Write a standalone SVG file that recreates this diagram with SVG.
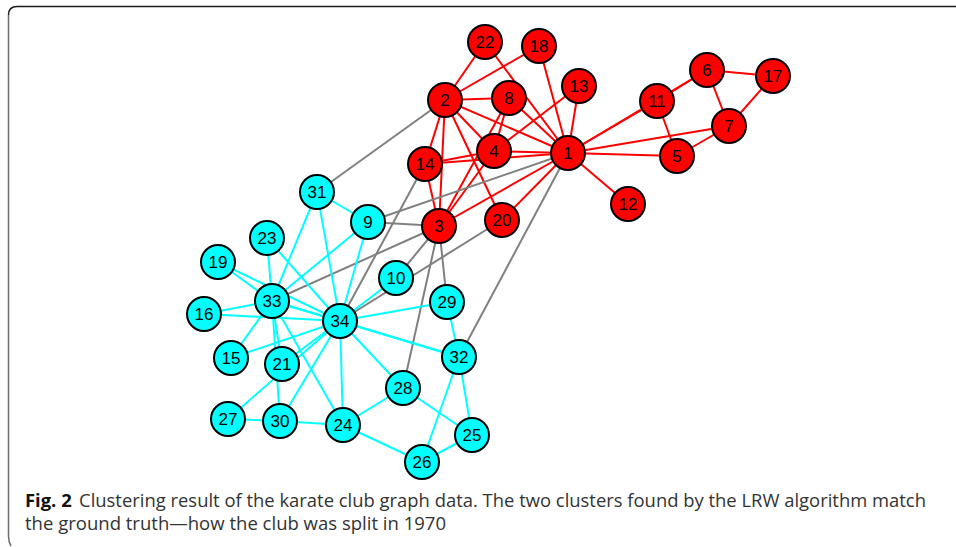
<svg xmlns="http://www.w3.org/2000/svg" width="956" height="547" viewBox="0 0 956 547">
<style>
.r{stroke:#ff0000;stroke-width:2}
.c{stroke:#00ffff;stroke-width:2}
.g{stroke:#808080;stroke-width:2}
.nr circle{fill:#ff0000;stroke:#000;stroke-width:2}
.nc circle{fill:#00ffff;stroke:#000;stroke-width:2}
.n text{font-family:"Liberation Sans",Arial,sans-serif;font-size:17px;fill:#000;text-anchor:middle;dominant-baseline:central}
.cap{font-family:"Open Sans","Liberation Sans",sans-serif;font-size:17.5px;fill:#333}
.cap .b{font-weight:bold;fill:#111}
</style>
<rect width="956" height="547" fill="#fff"/>
<path d="M956,6.5 H17 Q8.5,6.5 8.5,15" fill="none" stroke="#1a1a1a" stroke-width="1.5"/>
<path d="M8.5,15 V536 Q8.5,542 11,546" fill="none" stroke="#6e6e6e" stroke-width="1.5"/>
<g id="edges">
<line class="r" x1="568" y1="153" x2="445" y2="100"/>
<line class="r" x1="568" y1="153" x2="439" y2="226"/>
<line class="r" x1="568" y1="153" x2="494" y2="151"/>
<line class="r" x1="568" y1="153" x2="677" y2="156"/>
<line class="r" x1="568" y1="153" x2="707" y2="70"/>
<line class="r" x1="568" y1="153" x2="729" y2="126"/>
<line class="r" x1="568" y1="153" x2="509" y2="98"/>
<line class="r" x1="568" y1="153" x2="657" y2="101"/>
<line class="r" x1="568" y1="153" x2="628" y2="204"/>
<line class="r" x1="568" y1="153" x2="579" y2="86"/>
<line class="r" x1="568" y1="153" x2="425" y2="164"/>
<line class="r" x1="568" y1="153" x2="539" y2="46"/>
<line class="r" x1="568" y1="153" x2="502" y2="220"/>
<line class="r" x1="568" y1="153" x2="485" y2="42"/>
<line class="r" x1="445" y1="100" x2="439" y2="226"/>
<line class="r" x1="445" y1="100" x2="494" y2="151"/>
<line class="r" x1="445" y1="100" x2="509" y2="98"/>
<line class="r" x1="445" y1="100" x2="425" y2="164"/>
<line class="r" x1="445" y1="100" x2="539" y2="46"/>
<line class="r" x1="445" y1="100" x2="502" y2="220"/>
<line class="r" x1="445" y1="100" x2="485" y2="42"/>
<line class="r" x1="439" y1="226" x2="494" y2="151"/>
<line class="r" x1="439" y1="226" x2="509" y2="98"/>
<line class="r" x1="439" y1="226" x2="425" y2="164"/>
<line class="r" x1="494" y1="151" x2="509" y2="98"/>
<line class="r" x1="494" y1="151" x2="579" y2="86"/>
<line class="r" x1="494" y1="151" x2="425" y2="164"/>
<line class="r" x1="677" y1="156" x2="729" y2="126"/>
<line class="r" x1="677" y1="156" x2="657" y2="101"/>
<line class="r" x1="707" y1="70" x2="729" y2="126"/>
<line class="r" x1="707" y1="70" x2="657" y2="101"/>
<line class="r" x1="707" y1="70" x2="773" y2="76"/>
<line class="r" x1="729" y1="126" x2="773" y2="76"/>
<line class="g" x1="568" y1="153" x2="368" y2="222"/>
<line class="g" x1="568" y1="153" x2="459" y2="357"/>
<line class="g" x1="445" y1="100" x2="317" y2="192"/>
<line class="g" x1="439" y1="226" x2="368" y2="222"/>
<line class="g" x1="439" y1="226" x2="396" y2="278"/>
<line class="g" x1="439" y1="226" x2="403" y2="388"/>
<line class="g" x1="439" y1="226" x2="447" y2="302"/>
<line class="g" x1="439" y1="226" x2="272" y2="301"/>
<line class="g" x1="425" y1="164" x2="340" y2="321"/>
<line class="g" x1="502" y1="220" x2="340" y2="321"/>
<line class="c" x1="368" y1="222" x2="317" y2="192"/>
<line class="c" x1="368" y1="222" x2="272" y2="301"/>
<line class="c" x1="368" y1="222" x2="340" y2="321"/>
<line class="c" x1="396" y1="278" x2="340" y2="321"/>
<line class="c" x1="231" y1="358" x2="272" y2="301"/>
<line class="c" x1="231" y1="358" x2="340" y2="321"/>
<line class="c" x1="204" y1="314" x2="272" y2="301"/>
<line class="c" x1="204" y1="314" x2="340" y2="321"/>
<line class="c" x1="218" y1="262" x2="272" y2="301"/>
<line class="c" x1="218" y1="262" x2="340" y2="321"/>
<line class="c" x1="282" y1="364" x2="272" y2="301"/>
<line class="c" x1="282" y1="364" x2="340" y2="321"/>
<line class="c" x1="267" y1="238" x2="272" y2="301"/>
<line class="c" x1="267" y1="238" x2="340" y2="321"/>
<line class="c" x1="343" y1="425" x2="422" y2="462"/>
<line class="c" x1="343" y1="425" x2="403" y2="388"/>
<line class="c" x1="343" y1="425" x2="280" y2="421"/>
<line class="c" x1="343" y1="425" x2="272" y2="301"/>
<line class="c" x1="343" y1="425" x2="340" y2="321"/>
<line class="c" x1="472" y1="435" x2="422" y2="462"/>
<line class="c" x1="472" y1="435" x2="403" y2="388"/>
<line class="c" x1="472" y1="435" x2="459" y2="357"/>
<line class="c" x1="422" y1="462" x2="459" y2="357"/>
<line class="c" x1="228" y1="419" x2="280" y2="421"/>
<line class="c" x1="228" y1="419" x2="340" y2="321"/>
<line class="c" x1="403" y1="388" x2="340" y2="321"/>
<line class="c" x1="447" y1="302" x2="459" y2="357"/>
<line class="c" x1="447" y1="302" x2="340" y2="321"/>
<line class="c" x1="280" y1="421" x2="272" y2="301"/>
<line class="c" x1="280" y1="421" x2="340" y2="321"/>
<line class="c" x1="317" y1="192" x2="272" y2="301"/>
<line class="c" x1="317" y1="192" x2="340" y2="321"/>
<line class="c" x1="459" y1="357" x2="272" y2="301"/>
<line class="c" x1="459" y1="357" x2="340" y2="321"/>
<line class="c" x1="272" y1="301" x2="340" y2="321"/>
</g>
<g id="n1" class="n nr"><circle cx="568" cy="153" r="17"/><text x="568" y="153">1</text></g>
<g id="n2" class="n nr"><circle cx="445" cy="100" r="17"/><text x="445" y="100">2</text></g>
<g id="n3" class="n nr"><circle cx="439" cy="226" r="17"/><text x="439" y="226">3</text></g>
<g id="n4" class="n nr"><circle cx="494" cy="151" r="17"/><text x="494" y="151">4</text></g>
<g id="n5" class="n nr"><circle cx="677" cy="156" r="17"/><text x="677" y="156">5</text></g>
<g id="n6" class="n nr"><circle cx="707" cy="70" r="17"/><text x="707" y="70">6</text></g>
<g id="n7" class="n nr"><circle cx="729" cy="126" r="17"/><text x="729" y="126">7</text></g>
<g id="n8" class="n nr"><circle cx="509" cy="98" r="17"/><text x="509" y="98">8</text></g>
<g id="n9" class="n nc"><circle cx="368" cy="222" r="17"/><text x="368" y="222">9</text></g>
<g id="n10" class="n nc"><circle cx="396" cy="278" r="17"/><text x="396" y="278">10</text></g>
<g id="n11" class="n nr"><circle cx="657" cy="101" r="17"/><text x="657" y="101">11</text></g>
<g id="n12" class="n nr"><circle cx="628" cy="204" r="17"/><text x="628" y="204">12</text></g>
<g id="n13" class="n nr"><circle cx="579" cy="86" r="17"/><text x="579" y="86">13</text></g>
<g id="n14" class="n nr"><circle cx="425" cy="164" r="17"/><text x="425" y="164">14</text></g>
<g id="n15" class="n nc"><circle cx="231" cy="358" r="17"/><text x="231" y="358">15</text></g>
<g id="n16" class="n nc"><circle cx="204" cy="314" r="17"/><text x="204" y="314">16</text></g>
<g id="n17" class="n nr"><circle cx="773" cy="76" r="17"/><text x="773" y="76">17</text></g>
<g id="n18" class="n nr"><circle cx="539" cy="46" r="17"/><text x="539" y="46">18</text></g>
<g id="n19" class="n nc"><circle cx="218" cy="262" r="17"/><text x="218" y="262">19</text></g>
<g id="n20" class="n nr"><circle cx="502" cy="220" r="17"/><text x="502" y="220">20</text></g>
<g id="n21" class="n nc"><circle cx="282" cy="364" r="17"/><text x="282" y="364">21</text></g>
<g id="n22" class="n nr"><circle cx="485" cy="42" r="17"/><text x="485" y="42">22</text></g>
<g id="n23" class="n nc"><circle cx="267" cy="238" r="17"/><text x="267" y="238">23</text></g>
<g id="n24" class="n nc"><circle cx="343" cy="425" r="17"/><text x="343" y="425">24</text></g>
<g id="n25" class="n nc"><circle cx="472" cy="435" r="17"/><text x="472" y="435">25</text></g>
<g id="n26" class="n nc"><circle cx="422" cy="462" r="17"/><text x="422" y="462">26</text></g>
<g id="n27" class="n nc"><circle cx="228" cy="419" r="17"/><text x="228" y="419">27</text></g>
<g id="n28" class="n nc"><circle cx="403" cy="388" r="17"/><text x="403" y="388">28</text></g>
<g id="n29" class="n nc"><circle cx="447" cy="302" r="17"/><text x="447" y="302">29</text></g>
<g id="n30" class="n nc"><circle cx="280" cy="421" r="17"/><text x="280" y="421">30</text></g>
<g id="n31" class="n nc"><circle cx="317" cy="192" r="17"/><text x="317" y="192">31</text></g>
<g id="n32" class="n nc"><circle cx="459" cy="357" r="17"/><text x="459" y="357">32</text></g>
<g id="n33" class="n nc"><circle cx="272" cy="301" r="17"/><text x="272" y="301">33</text></g>
<g id="n34" class="n nc"><circle cx="340" cy="321" r="17"/><text x="340" y="321">34</text></g>
<g id="caption">
<text class="cap" x="25" y="507" textLength="901" lengthAdjust="spacingAndGlyphs"><tspan class="b">Fig. 2</tspan><tspan dx="7">Clustering result of the karate club graph data. The two clusters found by the LRW algorithm match</tspan></text>
<text class="cap" x="25" y="530" textLength="421" lengthAdjust="spacingAndGlyphs">the ground truth—how the club was split in 1970</text>
</g>
</svg>
